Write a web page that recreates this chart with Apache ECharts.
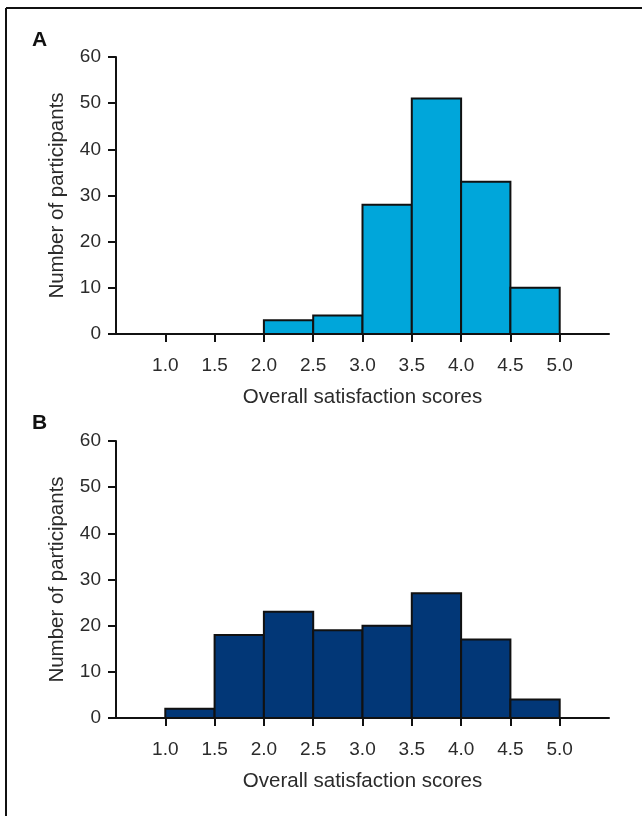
<!DOCTYPE html>
<html>
<head>
<meta charset="utf-8">
<script src="https://cdn.jsdelivr.net/npm/echarts@6/dist/echarts.min.js"></script>
<style>
html,body{margin:0;padding:0;background:#fff;}
#c{width:642px;height:816px;}
</style>
</head>
<body>
<div id="c"></div>
<script>
// Bin edges (satisfaction score) and counts
var binStarts = [1.0, 1.5, 2.0, 2.5, 3.0, 3.5, 4.0, 4.5];
var binWidth = 0.5;
var countsA = [0, 0, 3, 4, 28, 51, 33, 10];
var countsB = [2, 18, 23, 19, 20, 27, 17, 4];
var xTicks = [1.0, 1.5, 2.0, 2.5, 3.0, 3.5, 4.0, 4.5, 5.0];
var yTicks = [0, 10, 20, 30, 40, 50, 60];
var panelLabels = ['A', 'B'];
var xTitle = 'Overall satisfaction scores';
var yTitle = 'Number of participants';

var colorA = '#00A6DA';
var colorB = '#023777';
var FONT = 'Liberation Sans, Arial, sans-serif';
var TXT = '#2b2b2b';

function makeData(counts) {
  return binStarts.map(function (s, i) { return [s, s + binWidth, counts[i]]; });
}

function renderItem(params, api) {
  var x0 = api.value(0), x1 = api.value(1), v = api.value(2);
  if (!v) return null;
  var p0 = api.coord([x0, v]);
  var p1 = api.coord([x1, 0]);
  return {
    type: 'rect',
    shape: { x: p0[0], y: p0[1], width: p1[0] - p0[0], height: p1[1] - p0[1] },
    style: { fill: api.visual('color'), stroke: '#111', lineWidth: 2 }
  };
}

function xAxisCfg(gi) {
  return {
    gridIndex: gi, type: 'value', min: 0.5, max: 5.5, interval: 0.5,
    name: xTitle, nameLocation: 'middle', nameGap: 53,
    nameTextStyle: { fontFamily: FONT, fontSize: 20.5, color: TXT },
    axisLine: { show: true, onZero: false, lineStyle: { color: '#111', width: 2 } },
    axisTick: { show: true, length: 8, customValues: xTicks, lineStyle: { color: '#111', width: 2 } },
    axisLabel: { customValues: xTicks, margin: 22, fontFamily: FONT, fontSize: 19, color: TXT,
      formatter: function (v) { return v.toFixed(1); } },
    splitLine: { show: false }
  };
}
function yAxisCfg(gi) {
  return {
    gridIndex: gi, type: 'value', min: 0, max: 60, interval: 10,
    name: yTitle, nameLocation: 'middle', nameGap: 48, nameRotate: 90,
    nameTextStyle: { fontFamily: FONT, fontSize: 20.5, color: TXT },
    axisLine: { show: true, lineStyle: { color: '#111', width: 2 } },
    axisTick: { show: true, length: 8, lineStyle: { color: '#111', width: 2 } },
    axisLabel: { margin: 15, fontFamily: FONT, fontSize: 19, color: TXT },
    splitLine: { show: false }
  };
}

var chart = echarts.init(document.getElementById('c'), null, { renderer: 'canvas' });
chart.setOption({
  backgroundColor: '#fff',
  animation: false,
  grid: [
    { left: 116, right: 33, top: 57, height: 277 },
    { left: 116, right: 33, top: 441, height: 277 }
  ],
  xAxis: [xAxisCfg(0), xAxisCfg(1)],
  yAxis: [yAxisCfg(0), yAxisCfg(1)],
  series: [
    { type: 'custom', xAxisIndex: 0, yAxisIndex: 0, renderItem: renderItem,
      itemStyle: { color: colorA }, data: makeData(countsA), encode: { x: [0, 1], y: 2 } },
    { type: 'custom', xAxisIndex: 1, yAxisIndex: 1, renderItem: renderItem,
      itemStyle: { color: colorB }, data: makeData(countsB), encode: { x: [0, 1], y: 2 } }
  ],
  graphic: [
    { type: 'line', shape: { x1: 6, y1: 8, x2: 642, y2: 8 }, style: { stroke: '#111', lineWidth: 2 } },
    { type: 'line', shape: { x1: 6, y1: 8, x2: 6, y2: 816 }, style: { stroke: '#111', lineWidth: 2 } },
    { type: 'text', left: 32, top: 30, style: { text: panelLabels[0], font: 'bold 21px ' + FONT, fill: '#111' } },
    { type: 'text', left: 32, top: 413, style: { text: panelLabels[1], font: 'bold 21px ' + FONT, fill: '#111' } }
  ]
});
</script>
</body>
</html>
